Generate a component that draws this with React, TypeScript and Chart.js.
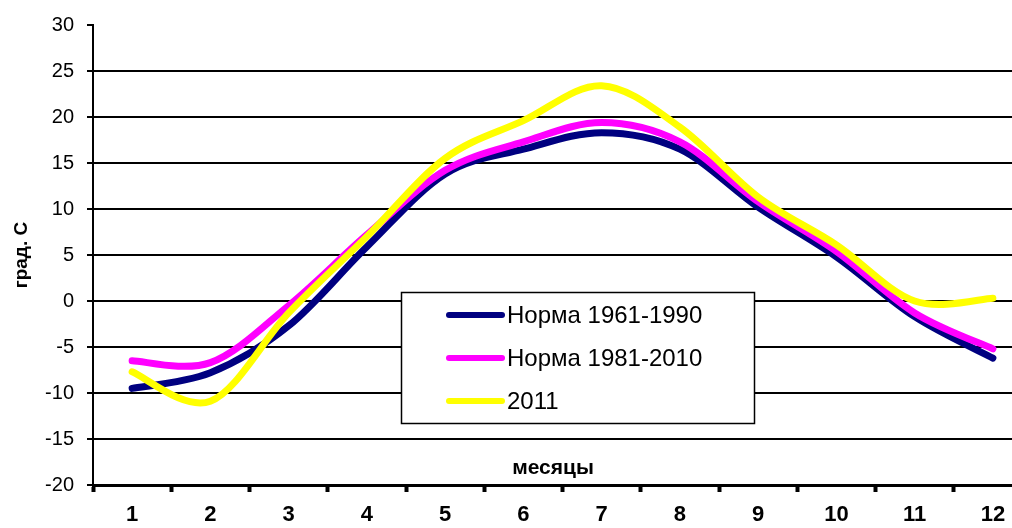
import React, { useEffect, useRef } from "react";
import { Chart, registerables } from "chart.js";

Chart.register(...registerables);

const months = ["1", "2", "3", "4", "5", "6", "7", "8", "9", "10", "11", "12"];
const norm6190 = [-9.5, -7.8, -2.7, 5.9, 13.8, 16.5, 18.3, 16.5, 10.2, 4.8, -1.7, -6.2];
const norm8110 = [-6.5, -6.7, -0.5, 7.2, 14.2, 17.3, 19.4, 17.3, 10.8, 5.4, -1.3, -5.2];
const y2011 = [-7.7, -10.9, -1.3, 7.0, 15.5, 19.6, 23.4, 18.9, 11.3, 6.1, 0.0, 0.3];

const seriesNames = ["Норма 1961-1990", "Норма 1981-2010", "2011"];
const seriesColors = ["#000080", "#FF00FF", "#FFFF00"];
const yTitle = "град. С";
const xTitle = "месяцы";

const FONT = "'Liberation Sans', Arial, sans-serif";

// Excel-like smoothing: Catmull-Rom control points from the scaled points
const smoothPlugin = {
  id: "excelSmooth",
  beforeDatasetDraw(chart: any, args: any) {
    const meta = args.meta;
    const pts = meta.data;
    const n = pts.length;
    for (let i = 0; i < n; i++) {
      const p = pts[i];
      const prev = pts[Math.max(0, i - 1)];
      const next = pts[Math.min(n - 1, i + 1)];
      const dx = (next.x - prev.x) / 6;
      const dy = (next.y - prev.y) / 6;
      p.cp1x = p.x - dx;
      p.cp1y = p.y - dy;
      p.cp2x = p.x + dx;
      p.cp2y = p.y + dy;
    }
    if (meta.dataset) {
      meta.dataset._pointsUpdated = true;
      meta.dataset._path = undefined;
    }
  },
};

const overlayPlugin = {
  id: "overlay",
  afterDatasetsDraw(chart: any) {
    const ctx = chart.ctx as CanvasRenderingContext2D;
    const a = chart.chartArea;
    ctx.save();
    ctx.fillStyle = "#000";
    ctx.font = `bold 19px ${FONT}`;
    ctx.textAlign = "center";
    ctx.textBaseline = "middle";
    ctx.translate(22, (a.top + a.bottom) / 2);
    ctx.rotate(-Math.PI / 2);
    ctx.fillText(yTitle, 0, 0);
    ctx.restore();

    ctx.save();
    ctx.fillStyle = "#000";
    ctx.font = `bold 21px ${FONT}`;
    ctx.textAlign = "center";
    ctx.textBaseline = "middle";
    ctx.fillText(xTitle, 553, 468);
    ctx.restore();

    ctx.save();
    const bx = 401.5, by = 292.5, bw = 353, bh = 131;
    ctx.fillStyle = "#fff";
    ctx.fillRect(bx, by, bw, bh);
    ctx.strokeStyle = "#000";
    ctx.lineWidth = 1.5;
    ctx.strokeRect(bx, by, bw, bh);
    const rows = [315, 358, 401];
    ctx.font = `24px ${FONT}`;
    ctx.textBaseline = "middle";
    ctx.textAlign = "left";
    seriesNames.forEach((name, i) => {
      ctx.strokeStyle = seriesColors[i];
      ctx.lineWidth = 6;
      ctx.lineCap = "round";
      ctx.beginPath();
      ctx.moveTo(449, rows[i]);
      ctx.lineTo(502, rows[i]);
      ctx.stroke();
      ctx.fillStyle = "#000";
      ctx.fillText(name, 507, rows[i] + 1);
    });
    ctx.restore();
  },
};

export default function App() {
  const ref = useRef<HTMLCanvasElement | null>(null);
  useEffect(() => {
    if (!ref.current) return;
    const mk = (i: number, data: number[], order: number) => ({
      label: seriesNames[i],
      data,
      borderColor: seriesColors[i],
      backgroundColor: seriesColors[i],
      borderWidth: 7,
      pointRadius: 0,
      tension: 0.4,
      borderCapStyle: "round" as const,
      borderJoinStyle: "round" as const,
      fill: false,
      order,
    });
    const chart = new Chart(ref.current, {
      type: "line",
      data: {
        labels: months,
        datasets: [mk(0, norm6190, 2), mk(1, norm8110, 1), mk(2, y2011, 0)],
      },
      plugins: [smoothPlugin, overlayPlugin],
      options: {
        animation: false,
        responsive: false,
        devicePixelRatio: 1,
        layout: { padding: { top: 24, left: 0, right: 8, bottom: 0 } },
        plugins: { legend: { display: false }, tooltip: { enabled: false } },
        scales: {
          x: {
            type: "category",
            offset: true,
            afterFit: (s: any) => {
              s.height = 43;
            },
            grid: {
              display: true,
              drawOnChartArea: false,
              drawTicks: true,
              offset: true,
              tickLength: 7,
              tickWidth: 4,
              tickColor: "#000",
              color: "#000",
            },
            border: { display: true, color: "#000", width: 3 },
            ticks: {
              color: "#000",
              padding: 10,
              maxRotation: 0,
              autoSkip: false,
              font: { family: FONT, size: 22, weight: "bold" },
            },
          },
          y: {
            min: -20,
            max: 30,
            afterFit: (s: any) => {
              s.width = 93;
            },
            grid: {
              lineWidth: 2,
              color: (c: any) =>
                c.tick && (c.tick.value === 30 || c.tick.value === -20) ? "rgba(0,0,0,0)" : "#000",
              tickColor: "#000",
              tickLength: 6,
              tickWidth: 2,
              drawTicks: true,
            },
            border: { display: true, color: "#000", width: 2 },
            ticks: {
              stepSize: 5,
              color: "#000",
              padding: 13,
              font: { family: FONT, size: 20 },
            },
          },
        },
      },
    });
    return () => chart.destroy();
  }, []);
  return (
    <div
      style={{
        position: "absolute",
        left: 0,
        top: 0,
        width: 1012,
        height: 528,
        overflow: "hidden",
        background: "#fff",
      }}
    >
      <canvas ref={ref} width={1040} height={528} style={{ width: 1040, height: 528, display: "block" }} />
    </div>
  );
}
